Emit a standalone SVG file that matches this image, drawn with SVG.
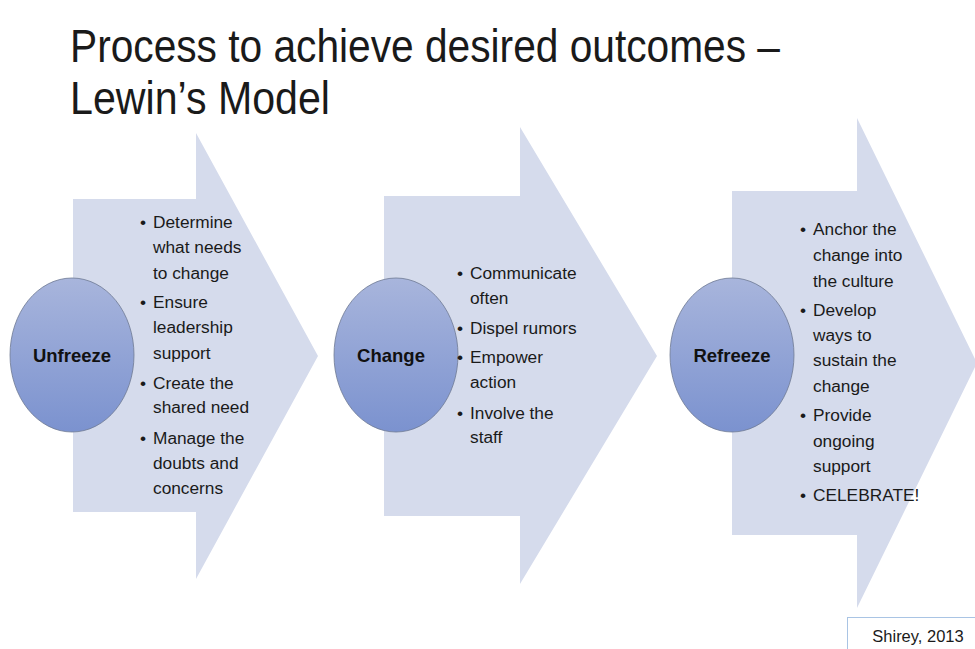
<svg xmlns="http://www.w3.org/2000/svg" width="975" height="649" viewBox="0 0 975 649">
<defs>
<linearGradient id="cg" x1="0" y1="0" x2="0" y2="1">
<stop offset="0" stop-color="#a8b5dc"/>
<stop offset="1" stop-color="#7b92cf"/>
</linearGradient>
<style>
.arrow{fill:#d5dbec;}
.circ{fill:url(#cg);stroke:#6f7a93;stroke-width:0.8;}
.lbl{font-family:"Liberation Sans",Arial,sans-serif;font-weight:bold;font-size:18.5px;fill:#111;text-anchor:middle;}
.bul{font-family:"Liberation Sans",Arial,sans-serif;font-size:17.3px;fill:#1a1a1a;}
.title{font-family:"Liberation Sans",Arial,sans-serif;font-size:46px;fill:#1a1a1a;}
</style>
</defs>
<rect width="975" height="649" fill="#ffffff"/>
<g id="title">
<text class="title" x="70" y="62" textLength="710" lengthAdjust="spacingAndGlyphs">Process to achieve desired outcomes –</text>
<text class="title" x="70" y="114" textLength="260" lengthAdjust="spacingAndGlyphs">Lewin’s Model</text>
</g>
<g id="unfreeze">
<polygon class="arrow" points="73,199 196,199 196,133 318,356 196,579 196,512 73,512"/>
<ellipse class="circ" cx="72" cy="355" rx="62" ry="77"/>
<text class="lbl" x="72" y="362">Unfreeze</text>
<g class="bul">
<text x="140" y="228">•</text>
<text x="153" y="228">Determine</text>
<text x="153" y="253">what needs</text>
<text x="153" y="279">to change</text>
<text x="140" y="308">•</text>
<text x="153" y="308">Ensure</text>
<text x="153" y="333">leadership</text>
<text x="153" y="359">support</text>
<text x="140" y="389">•</text>
<text x="153" y="389">Create the</text>
<text x="153" y="413">shared need</text>
<text x="140" y="444">•</text>
<text x="153" y="444">Manage the</text>
<text x="153" y="469">doubts and</text>
<text x="153" y="494">concerns</text>
</g>
</g>
<g id="change">
<polygon class="arrow" points="384,196 520,196 520,127 657,356 520,584 520,516 384,516"/>
<ellipse class="circ" cx="396" cy="355" rx="62" ry="77"/>
<text class="lbl" x="391" y="362">Change</text>
<g class="bul">
<text x="457" y="279">•</text>
<text x="470" y="279">Communicate</text>
<text x="470" y="304">often</text>
<text x="457" y="334">•</text>
<text x="470" y="334">Dispel rumors</text>
<text x="457" y="363">•</text>
<text x="470" y="363">Empower</text>
<text x="470" y="388">action</text>
<text x="457" y="419">•</text>
<text x="470" y="419">Involve the</text>
<text x="470" y="443">staff</text>
</g>
</g>
<g id="refreeze">
<polygon class="arrow" points="732,191 857,191 857,118 977,363 857,608 857,535 732,535"/>
<ellipse class="circ" cx="732" cy="355" rx="62" ry="77"/>
<text class="lbl" x="732" y="362">Refreeze</text>
<g class="bul">
<text x="800" y="235">•</text>
<text x="813" y="235">Anchor the</text>
<text x="813" y="261">change into</text>
<text x="813" y="287">the culture</text>
<text x="800" y="316">•</text>
<text x="813" y="316">Develop</text>
<text x="813" y="341">ways to</text>
<text x="813" y="366">sustain the</text>
<text x="813" y="392">change</text>
<text x="800" y="421">•</text>
<text x="813" y="421">Provide</text>
<text x="813" y="447">ongoing</text>
<text x="813" y="472">support</text>
<text x="800" y="501">•</text>
<text x="813" y="501">CELEBRATE!</text>
</g>
</g>
<g id="citation">
<rect x="847.5" y="617.5" width="140" height="40" fill="#ffffff" stroke="#a9c4e4" stroke-width="1"/>
<text x="918" y="642" font-family="'Liberation Sans',Arial,sans-serif" font-size="16.5" fill="#1a1a1a" text-anchor="middle">Shirey, 2013</text>
</g>
</svg>
